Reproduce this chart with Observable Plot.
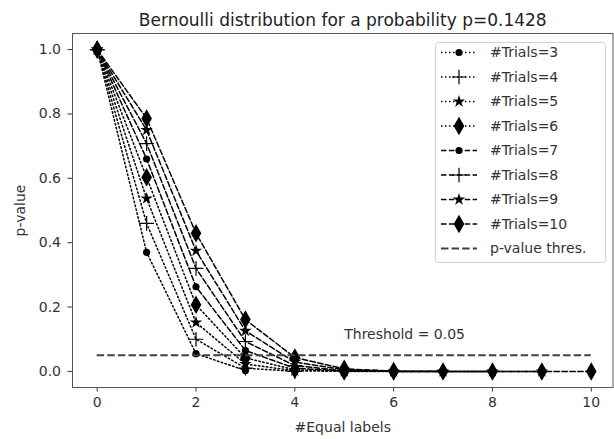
<!DOCTYPE html>
<html><head><meta charset="utf-8">
<script src="https://cdn.jsdelivr.net/npm/d3@7"></script>
<script src="https://cdn.jsdelivr.net/npm/@observablehq/plot@0.6"></script>
<style>body{margin:0;background:#fff} svg{display:block}</style>
</head><body><div id="chart"></div>
<script>
const title = "Bernoulli distribution for a probability p=0.1428";
const xLabel = "#Equal labels";
const yLabel = "p-value";
const trials = [3, 4, 5, 6, 7, 8, 9, 10];
// p-value read for each #Equal labels = 0..n
const pv3  = [1, 0.370, 0.055, 0.003];
const pv4  = [1, 0.460, 0.100, 0.010, 0.000];
const pv5  = [1, 0.537, 0.152, 0.023, 0.002, 0.000];
const pv6  = [1, 0.603, 0.207, 0.042, 0.005, 0.000, 0.000];
const pv7  = [1, 0.660, 0.263, 0.065, 0.010, 0.001, 0.000, 0.000];
const pv8  = [1, 0.708, 0.320, 0.093, 0.018, 0.002, 0.000, 0.000, 0.000];
const pv9  = [1, 0.750, 0.375, 0.126, 0.029, 0.005, 0.000, 0.000, 0.000, 0.000];
const pv10 = [1, 0.786, 0.429, 0.161, 0.043, 0.008, 0.001, 0.000, 0.000, 0.000, 0.000];
const seriesValues = [pv3, pv4, pv5, pv6, pv7, pv8, pv9, pv10];
const seriesLabels = ["#Trials=3", "#Trials=4", "#Trials=5", "#Trials=6", "#Trials=7", "#Trials=8", "#Trials=9", "#Trials=10"];
const thresholdValue = 0.05;
const thresholdLabel = "p-value thres.";
const thresholdText = "Threshold = 0.05";
const xTicks = [0, 2, 4, 6, 8, 10];
const yTicks = [0, 0.2, 0.4, 0.6, 0.8, 1.0];

// styles
const markerTypes = ["circle", "plus", "star", "diamond"];
const markerR = {circle: 3.6, plus: 4.8, star: 3.9, diamond: 5.6};
const dotted = "1.5,2.5";
const dashed = "5.5,2.4";
const FS = 14;

const rows = [];
trials.forEach((n, i) => seriesValues[i].forEach((v, k) => rows.push({n, k, p: v})));

const marks = [];
trials.forEach((n, i) => {
  const data = rows.filter(d => d.n === n);
  const mt = markerTypes[i % 4];
  marks.push(Plot.line(data, {x: "k", y: "p", stroke: "black", strokeWidth: 1.5, strokeDasharray: i < 4 ? dotted : dashed}));
  if (mt === "plus") {
    marks.push(Plot.dot(data, {x: "k", y: "p", symbol: "plus", r: markerR.plus, stroke: "black", strokeWidth: 1.2, fill: "none"}));
  } else {
    marks.push(Plot.dot(data, {x: "k", y: "p", symbol: mt, r: markerR[mt], fill: "black", stroke: "none"}));
  }
});
marks.push(Plot.ruleY([thresholdValue], {x1: 0, x2: 10, stroke: "#404040", strokeWidth: 2, strokeDasharray: "7.4,3.2"}));
marks.push(Plot.text([thresholdText], {x: 5, y: 0.1, text: d => d, textAnchor: "start", lineAnchor: "bottom", fill: "#333", fontSize: FS}));
marks.push(Plot.frame({stroke: "#555", strokeWidth: 1}));
marks.push(Plot.text([title], {frameAnchor: "top", dy: -20, text: d => d, fontSize: 17, fill: "#222"}));

const chart = Plot.plot({
  width: 614, height: 439,
  marginTop: 33, marginBottom: 52, marginLeft: 72, marginRight: 1.5,
  style: {fontFamily: "DejaVu Sans", fontSize: FS + "px", color: "#333", background: "white"},
  x: {domain: [-0.5, 10.44], ticks: xTicks, tickSize: 4.5, tickPadding: 5, label: xLabel, labelAnchor: "center", labelArrow: "none", labelOffset: 44},
  y: {domain: [-0.05, 1.05], ticks: yTicks, tickFormat: d3.format(".1f"), tickSize: 4.5, tickPadding: 7, label: yLabel, labelAnchor: "center", labelArrow: "none", labelOffset: 57},
  marks
});
document.getElementById("chart").append(chart);

// legend
const svg = d3.select(chart);
const lg = svg.append("g").attr("text-anchor", "start");
lg.append("rect").attr("x", 435.5).attr("y", 42.5).attr("width", 170).attr("height", 220).attr("rx", 3)
  .attr("fill", "white").attr("fill-opacity", 0.85).attr("stroke", "#d0d0d0");
const rowY = i => 52.5 + i * 24.5;
const legendItems = seriesLabels.map((l, i) => ({label: l, marker: markerTypes[i % 4], dash: i < 4 ? dotted : dashed}));
const symMap = {circle: d3.symbolCircle, plus: d3.symbolPlus, star: d3.symbolStar, diamond: d3.symbolDiamond};
legendItems.forEach((it, i) => {
  const y = rowY(i);
  lg.append("line").attr("x1", 441).attr("x2", 477).attr("y1", y).attr("y2", y)
    .attr("stroke", "black").attr("stroke-width", 1.5).attr("stroke-dasharray", it.dash);
  const r = markerR[it.marker];
  const path = d3.symbol(symMap[it.marker], r * r * Math.PI)();
  const p = lg.append("path").attr("d", path).attr("transform", `translate(459,${y})`);
  if (it.marker === "plus") p.attr("fill", "none").attr("stroke", "black").attr("stroke-width", 1.2);
  else p.attr("fill", "black");
  lg.append("text").attr("x", 490).attr("y", y).attr("dy", "0.35em").attr("fill", "#333").attr("font-size", FS).text(it.label);
});
{
  const y = rowY(8);
  lg.append("line").attr("x1", 441).attr("x2", 477).attr("y1", y).attr("y2", y)
    .attr("stroke", "#404040").attr("stroke-width", 2).attr("stroke-dasharray", "7.4,3.2");
  lg.append("text").attr("x", 490).attr("y", y).attr("dy", "0.35em").attr("fill", "#333").attr("font-size", FS).text(thresholdLabel);
}
</script></body></html>
